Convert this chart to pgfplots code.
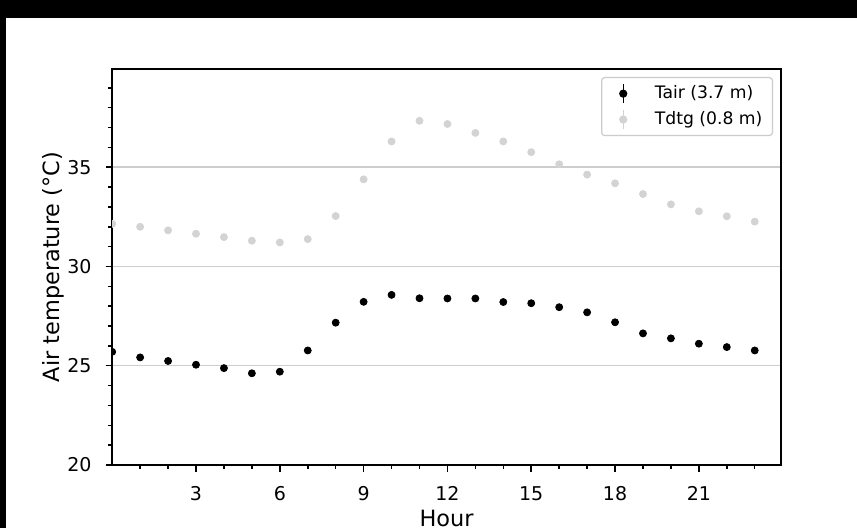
\documentclass[border=0pt]{standalone}
\usepackage{fontspec}
\setmainfont{DejaVu Sans}
\usepackage{pgfplots}
\pgfplotsset{compat=1.18}
\definecolor{tdtg}{RGB}{211,211,211}
\definecolor{gridc}{RGB}{205,205,205}
\definecolor{legc}{RGB}{204,204,204}

% hourly means
\pgfplotstableread{
hour temp
0  25.70
1  25.42
2  25.24
3  25.05
4  24.88
5  24.62
6  24.70
7  25.77
8  27.17
9  28.22
10 28.57
11 28.40
12 28.39
13 28.39
14 28.21
15 28.15
16 27.95
17 27.69
18 27.19
19 26.63
20 26.38
21 26.11
22 25.94
23 25.77
}\tair
\pgfplotstableread{
hour temp
0  32.15
1  32.00
2  31.82
3  31.65
4  31.48
5  31.30
6  31.21
7  31.38
8  32.54
9  34.39
10 36.30
11 37.34
12 37.18
13 36.73
14 36.30
15 35.76
16 35.15
17 34.63
18 34.19
19 33.65
20 33.13
21 32.78
22 32.53
23 32.26
}\tdtg

\begin{document}
\begin{tikzpicture}
\fill[black] (-56.1pt,-31.5pt) rectangle (372.4pt,232.5pt);
\fill[white] (-53.1pt,-31.5pt) rectangle (372.4pt,223.5pt);
\begin{axis}[
    at={(0,0)}, anchor=south west,
    scale only axis, width=334.4pt, height=198pt,
    xmin=0, xmax=23.94, ymin=20, ymax=39.95,
    xtick={3,6,...,21}, ytick={20,25,30,35},
    minor xtick={1,2,4,5,7,8,10,11,13,14,16,17,19,20,22,23},
    minor ytick={21,22,23,24,26,27,28,29,31,32,33,34,36,37,38,39},
    tick align=outside, tick pos=left,
    major tick length=3.3pt, minor tick length=1.9pt,
    tick style={black, line width=0.75pt},
    axis line style={line width=0.75pt},
    ymajorgrids, major grid style={gridc, line width=0.75pt},
    /pgf/number format/assume math mode=true,
    ticklabel style={font=\fontsize{9.5}{11}\selectfont},
    xticklabel style={yshift=-3.8pt},
    yticklabel style={xshift=-3.5pt},
    xlabel={Hour},
    ylabel={Air temperature (°C)},
    label style={font=\fontsize{11.2}{13}\selectfont},
    xlabel style={at={(axis description cs:0.5,0)}, anchor=north, inner sep=0pt, yshift=-22.2pt},
    ylabel style={at={(axis description cs:-0.0792,0.5)}, anchor=base},
    clip mode=individual,
    legend cell align=left,
    legend style={at={(rel axis cs:1,1)}, anchor=north east, xshift=-4pt, yshift=-4pt,
        draw=legc, line width=0.6pt, rounded corners=1.5pt, fill=white,
        font=\fontsize{8.6}{10}\selectfont, inner xsep=3pt, inner ysep=2pt,
        row sep=0.9pt},
]
\addplot[clip marker paths=true, only marks, mark=*, mark size=1.75pt, black,
    legend image code/.code={
        \path (0pt,0pt) (21pt,0pt);
        \draw[black, line width=0.75pt] (7.5pt,-4.8pt) -- (7.5pt,4.8pt);
        \fill[black] (7.5pt,0pt) circle (1.75pt);}]
    table[x=hour, y=temp] {\tair};
\addlegendentry{Tair (3.7 m)}
\addplot[clip marker paths=true, only marks, mark=*, mark size=1.75pt, tdtg,
    legend image code/.code={
        \path (0pt,0pt) (21pt,0pt);
        \draw[tdtg, line width=0.75pt] (7.5pt,-4.8pt) -- (7.5pt,4.8pt);
        \fill[tdtg] (7.5pt,0pt) circle (1.75pt);}]
    table[x=hour, y=temp] {\tdtg};
\addlegendentry{Tdtg (0.8 m)}
\end{axis}
\end{tikzpicture}
\end{document}
